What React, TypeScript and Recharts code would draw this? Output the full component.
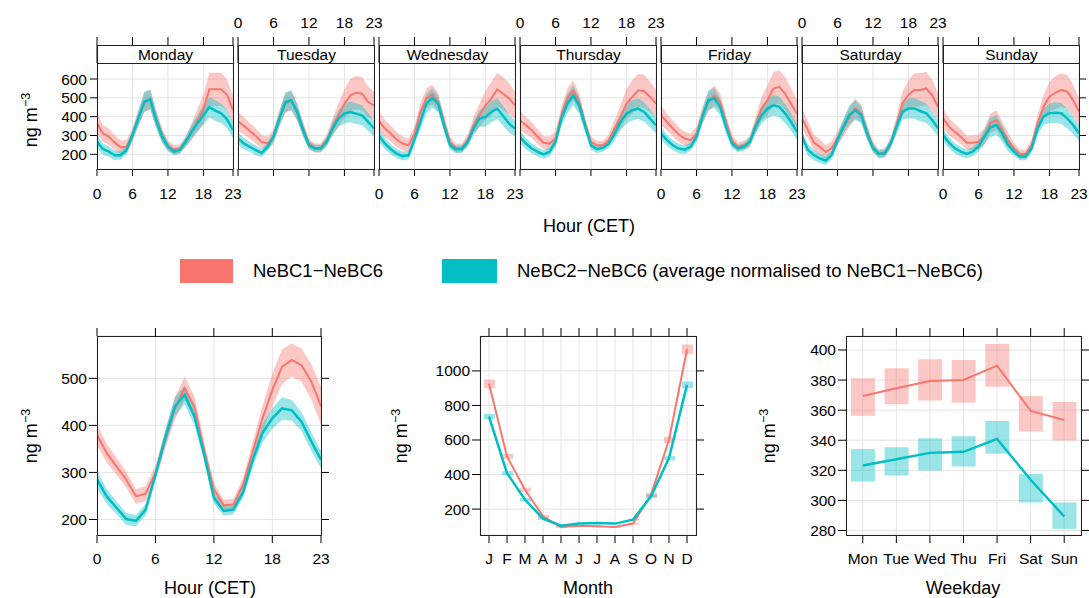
import React from 'react';
import { ComposedChart, Area, Line, Bar, XAxis, YAxis, CartesianGrid } from 'recharts';

const RED = '#F8766D';
const TEAL = '#00BFC4';
const FONT = '"Liberation Sans", Arial, Helvetica, sans-serif';

const hours = [0, 1, 2, 3, 4, 5, 6, 7, 8, 9, 10, 11, 12, 13, 14, 15, 16, 17, 18, 19, 20, 21, 22, 23];
const hourTicks = [0, 6, 12, 18, 23];
const days = ['Monday', 'Tuesday', 'Wednesday', 'Thursday', 'Friday', 'Saturday', 'Sunday'];

// hourly means per weekday (NeBC1-NeBC6 = red, NeBC2-NeBC6 normalised = teal)
const redMon = [365, 311, 294, 262, 237, 240, 303, 391, 474, 492, 391, 303, 244, 225, 228, 265, 320, 380, 440, 545, 545, 545, 515, 435];
const tealMon = [267, 228, 214, 195, 195, 223, 303, 391, 480, 492, 382, 294, 241, 214, 223, 267, 320, 365, 409, 450, 432, 418, 386, 329];
const redTue = [376, 351, 324, 298, 266, 257, 293, 390, 469, 487, 425, 337, 257, 234, 234, 275, 346, 407, 469, 513, 528, 522, 478, 460];
const tealTue = [284, 257, 240, 222, 207, 240, 293, 390, 478, 487, 425, 328, 248, 231, 231, 266, 337, 390, 416, 425, 416, 407, 372, 337];
const redWed = [376, 337, 310, 278, 257, 248, 310, 425, 496, 519, 478, 372, 266, 234, 234, 275, 354, 407, 460, 496, 545, 522, 496, 460];
const tealWed = [298, 257, 227, 204, 190, 195, 280, 372, 469, 499, 469, 354, 248, 227, 227, 266, 337, 390, 399, 425, 443, 404, 363, 337];
const redThu = [381, 354, 328, 293, 261, 257, 284, 407, 496, 540, 478, 363, 266, 248, 248, 275, 337, 399, 469, 505, 540, 535, 505, 469];
const tealThu = [293, 257, 231, 213, 199, 213, 266, 390, 469, 513, 460, 354, 248, 227, 234, 257, 310, 372, 416, 434, 443, 425, 390, 354];
const redFri = [407, 372, 337, 305, 284, 275, 310, 407, 478, 513, 478, 372, 275, 240, 248, 266, 354, 443, 487, 549, 558, 522, 469, 416];
const tealFri = [310, 275, 248, 231, 225, 240, 293, 399, 487, 499, 452, 346, 257, 231, 240, 266, 346, 407, 443, 460, 452, 416, 372, 319];
const redSat = [391, 330, 262, 240, 212, 232, 285, 338, 396, 444, 418, 320, 241, 202, 209, 258, 356, 471, 515, 542, 542, 550, 515, 453];
const tealSat = [294, 223, 196, 179, 166, 196, 276, 347, 409, 435, 409, 312, 232, 202, 205, 258, 347, 427, 444, 444, 430, 418, 382, 338];
const redSun = [391, 347, 320, 294, 262, 262, 267, 294, 365, 382, 329, 276, 232, 202, 202, 250, 365, 453, 506, 527, 542, 533, 488, 427];
const tealSun = [303, 262, 232, 214, 202, 214, 241, 294, 342, 356, 312, 250, 214, 188, 188, 232, 338, 400, 418, 421, 418, 391, 356, 312];

// confidence half-widths of the weekday-hour bands
const redDayCi = [52, 46, 42, 40, 36, 36, 38, 45, 52, 52, 46, 38, 28, 24, 24, 30, 45, 62, 78, 88, 88, 88, 82, 72];
const tealDayCi = [34, 30, 27, 25, 23, 23, 28, 38, 52, 52, 44, 35, 22, 20, 20, 25, 36, 44, 52, 55, 55, 52, 48, 42];

// overall diurnal profile
const redHour = [380, 341, 313, 285, 249, 255, 299, 369, 436, 479, 440, 348, 264, 230, 232, 274, 345, 415, 475, 525, 539, 528, 493, 441];
const tealHour = [285, 249, 225, 201, 197, 221, 295, 373, 440, 465, 419, 338, 246, 218, 221, 258, 327, 384, 415, 436, 432, 408, 366, 327];
const redHourCi = [22, 20, 18, 17, 16, 16, 16, 20, 24, 25, 22, 18, 14, 12, 12, 14, 20, 28, 35, 37, 35, 35, 38, 40];
const tealHourCi = [18, 16, 14, 13, 12, 12, 12, 16, 20, 20, 18, 15, 12, 10, 10, 12, 15, 20, 22, 24, 22, 20, 20, 18];

// monthly
const months = ['Jan', 'Feb', 'Mar', 'Apr', 'May', 'Jun', 'Jul', 'Aug', 'Sep', 'Oct', 'Nov', 'Dec'];
const redMonth = [925, 505, 312, 158, 96, 104, 100, 96, 116, 283, 601, 1125];
const tealMonth = [736, 408, 254, 145, 104, 116, 119, 116, 139, 274, 495, 919];
const redMonthCi = [25, 15, 12, 8, 6, 5, 5, 5, 6, 12, 18, 28];
const tealMonthCi = [15, 12, 10, 7, 5, 4, 4, 4, 5, 10, 12, 20];

// weekday
const weekdays = ['Mon', 'Tue', 'Wed', 'Thu', 'Fri', 'Sat', 'Sun'];
const redWeek = [369.4, 374.5, 379.4, 380.1, 389.6, 359.5, 353.5];
const redWeekLo = [356.2, 363.9, 366.4, 365.0, 375.6, 345.8, 339.8];
const redWeekHi = [381.2, 387.8, 393.8, 393.4, 404.0, 369.4, 365.5];
const tealWeek = [323.2, 327.4, 331.6, 332.3, 340.9, 313.7, 289.3];
const tealWeekLo = [312.6, 316.5, 319.9, 322.5, 331.1, 298.6, 281.1];
const tealWeekHi = [334.2, 335.4, 341.3, 342.7, 352.8, 317.6, 298.6];

const dayRed = [redMon, redTue, redWed, redThu, redFri, redSat, redSun];
const dayTeal = [tealMon, tealTue, tealWed, tealThu, tealFri, tealSat, tealSun];

const tickStyle = { fontSize: 15.5, fill: '#000', fontFamily: FONT };
const blank = () => '';
const gridColor = '#e4e4e4';

const Frame = ({ left, top, width, height }: { left: number; top: number; width: number; height: number }) => (
  <div
    style={{
      position: 'absolute', left, top, width: width + 1, height: height + 1,
      boxSizing: 'border-box', border: '1px solid #222', pointerEvents: 'none',
    }}
  />
);

const YTitle = ({ x, y }: { x: number; y: number }) => (
  <div
    style={{
      position: 'absolute', left: x, top: y, transform: 'translate(-50%, -50%) rotate(-90deg)',
      whiteSpace: 'nowrap', fontSize: 18,
    }}
  >
    ng m<sup style={{ fontSize: 12.5 }}>−3</sup>
  </div>
);

const XTitle = ({ x, y, text }: { x: number; y: number; text: string }) => (
  <div style={{ position: 'absolute', left: x, top: y, transform: 'translate(-50%, -50%)', whiteSpace: 'nowrap', fontSize: 18 }}>
    {text}
  </div>
);

function DayPanel({ idx }: { idx: number }) {
  const plotLeft = 97 + idx * 141;
  const r = dayRed[idx];
  const t = dayTeal[idx];
  const data = hours.map((h, k) => ({
    h,
    r: r[k],
    t: t[k],
    rb: [r[k] - redDayCi[k], r[k] + redDayCi[k]],
    tb: [t[k] - tealDayCi[k], t[k] + tealDayCi[k]],
  }));
  const showBottom = idx % 2 === 0;
  const showTop = idx % 2 === 1;
  return (
    <>
      <div style={{ position: 'absolute', left: plotLeft - 40, top: 0 }}>
        <ComposedChart width={216} height={210} data={data} margin={{ top: 33, right: 30, bottom: 11, left: 10 }}>
          <CartesianGrid stroke={gridColor} />
          <XAxis dataKey="h" type="number" domain={[0, 23]} ticks={hourTicks} allowDataOverflow interval={0}
            height={30} tickSize={7} tickMargin={12} axisLine={false} stroke="#000" tick={tickStyle}
            tickFormatter={showBottom ? undefined : blank} />
          <XAxis xAxisId="t" orientation="top" dataKey="h" type="number" domain={[0, 23]} ticks={hourTicks} allowDataOverflow
            interval={0} height={30} tickSize={26} tickMargin={9} axisLine={false} stroke="#000" tick={tickStyle}
            tickFormatter={showTop ? undefined : blank} />
          <YAxis type="number" domain={[122, 685]} ticks={[200, 300, 400, 500, 600]} allowDataOverflow interval={0}
            width={30} tickSize={7} tickMargin={3} axisLine={false} stroke="#000" tick={tickStyle}
            tickLine={idx === 0} tickFormatter={idx === 0 ? undefined : blank} />
          <YAxis yAxisId="r" orientation="right" type="number" domain={[122, 685]} ticks={[200, 300, 400, 500, 600]}
            allowDataOverflow interval={0} width={10} tickSize={7} axisLine={false} stroke="#000" tick={tickStyle}
            tickLine={idx === 6} tickFormatter={blank} />
          <Area type="linear" dataKey="rb" stroke="none" fill={RED} fillOpacity={0.4} isAnimationActive={false} />
          <Area type="linear" dataKey="tb" stroke="none" fill={TEAL} fillOpacity={0.4} isAnimationActive={false} />
          <Line type="linear" dataKey="r" stroke={RED} strokeWidth={2} dot={false} activeDot={false} isAnimationActive={false} />
          <Line type="linear" dataKey="t" stroke={TEAL} strokeWidth={2.5} dot={false} activeDot={false} isAnimationActive={false} />
        </ComposedChart>
      </div>
      <Frame left={plotLeft} top={45} width={136} height={124} />
      <div
        style={{
          position: 'absolute', left: plotLeft, top: 45, width: 137, height: 19, boxSizing: 'border-box',
          border: '1px solid #222', background: '#fff', fontSize: 15.5, textAlign: 'center', lineHeight: '17px',
        }}
      >
        {days[idx]}
      </div>
    </>
  );
}

function HourPanel() {
  const data = hours.map((h, k) => ({
    h,
    r: redHour[k],
    t: tealHour[k],
    rb: [redHour[k] - redHourCi[k], redHour[k] + redHourCi[k]],
    tb: [tealHour[k] - tealHourCi[k], tealHour[k] + tealHourCi[k]],
  }));
  return (
    <div style={{ position: 'absolute', left: 0, top: 300 }}>
      <ComposedChart width={340} height={270} data={data} margin={{ top: 16, right: 9, bottom: 5, left: 57 }}>
        <CartesianGrid stroke={gridColor} />
        <XAxis dataKey="h" type="number" domain={[0, 23]} ticks={hourTicks} allowDataOverflow interval={0}
          height={30} tickSize={8} tickMargin={10} axisLine={false} stroke="#000" tick={tickStyle} />
        <XAxis xAxisId="t" orientation="top" dataKey="h" type="number" domain={[0, 23]} ticks={hourTicks} allowDataOverflow
          interval={0} height={20} tickSize={8} axisLine={false} stroke="#000" tick={tickStyle} tickFormatter={blank} />
        <YAxis type="number" domain={[167, 590]} ticks={[200, 300, 400, 500]} allowDataOverflow interval={0}
          width={40} tickSize={8} tickMargin={2} axisLine={false} stroke="#000" tick={tickStyle} />
        <YAxis yAxisId="r" orientation="right" type="number" domain={[167, 590]} ticks={[200, 300, 400, 500]}
          allowDataOverflow interval={0} width={10} tickSize={8} axisLine={false} stroke="#000" tick={tickStyle}
          tickFormatter={blank} />
        <Area type="linear" dataKey="rb" stroke="none" fill={RED} fillOpacity={0.4} isAnimationActive={false} />
        <Area type="linear" dataKey="tb" stroke="none" fill={TEAL} fillOpacity={0.4} isAnimationActive={false} />
        <Line type="linear" dataKey="r" stroke={RED} strokeWidth={2} dot={false} activeDot={false} isAnimationActive={false} />
        <Line type="linear" dataKey="t" stroke={TEAL} strokeWidth={2.5} dot={false} activeDot={false} isAnimationActive={false} />
      </ComposedChart>
    </div>
  );
}

function MonthPanel() {
  const data = months.map((m, k) => ({
    m,
    r: redMonth[k],
    t: tealMonth[k],
    rb: [redMonth[k] - redMonthCi[k], redMonth[k] + redMonthCi[k]],
    tb: [tealMonth[k] - tealMonthCi[k], tealMonth[k] + tealMonthCi[k]],
  }));
  const first = (v: string) => v.charAt(0);
  return (
    <div style={{ position: 'absolute', left: 380, top: 300 }}>
      <ComposedChart width={330} height={270} data={data} margin={{ top: 16, right: 4, bottom: 5, left: 60 }}>
        <CartesianGrid stroke={gridColor} />
        <XAxis dataKey="m" interval={0} height={30} tickSize={8} tickMargin={10} axisLine={false} stroke="#000"
          tick={tickStyle} tickFormatter={first} />
        <XAxis xAxisId="b2" dataKey="m" hide />
        <XAxis xAxisId="t" orientation="top" dataKey="m" interval={0} height={20} tickSize={8} axisLine={false}
          stroke="#000" tick={tickStyle} tickFormatter={blank} />
        <YAxis type="number" domain={[50, 1202]} ticks={[200, 400, 600, 800, 1000]} allowDataOverflow interval={0}
          width={40} tickSize={8} tickMargin={2} axisLine={false} stroke="#000" tick={tickStyle} />
        <YAxis yAxisId="r" orientation="right" type="number" domain={[50, 1202]} ticks={[200, 400, 600, 800, 1000]}
          allowDataOverflow interval={0} width={10} tickSize={8} axisLine={false} stroke="#000" tick={tickStyle}
          tickFormatter={blank} />
        <Bar dataKey="rb" barSize={11} fill={RED} fillOpacity={0.4} isAnimationActive={false} />
        <Bar xAxisId="b2" dataKey="tb" barSize={11} fill={TEAL} fillOpacity={0.4} isAnimationActive={false} />
        <Line type="linear" dataKey="r" stroke={RED} strokeWidth={2} dot={false} activeDot={false} isAnimationActive={false} />
        <Line type="linear" dataKey="t" stroke={TEAL} strokeWidth={2.5} dot={false} activeDot={false} isAnimationActive={false} />
      </ComposedChart>
    </div>
  );
}

function WeekPanel() {
  const data = weekdays.map((d, k) => ({
    d,
    r: redWeek[k],
    t: tealWeek[k],
    rb: [redWeekLo[k], redWeekHi[k]],
    tb: [tealWeekLo[k], tealWeekHi[k]],
  }));
  return (
    <div style={{ position: 'absolute', left: 750, top: 300 }}>
      <ComposedChart width={339} height={270} data={data} margin={{ top: 16, right: 0, bottom: 5, left: 56 }}>
        <CartesianGrid stroke={gridColor} />
        <XAxis dataKey="d" interval={0} height={30} tickSize={8} tickMargin={10} axisLine={false} stroke="#000" tick={tickStyle} />
        <XAxis xAxisId="b2" dataKey="d" hide />
        <XAxis xAxisId="t" orientation="top" dataKey="d" interval={0} height={20} tickSize={8} axisLine={false}
          stroke="#000" tick={tickStyle} tickFormatter={blank} />
        <YAxis type="number" domain={[277, 409.3]} ticks={[280, 300, 320, 340, 360, 380, 400]} allowDataOverflow interval={0}
          width={40} tickSize={8} tickMargin={2} axisLine={false} stroke="#000" tick={tickStyle} />
        <YAxis yAxisId="r" orientation="right" type="number" domain={[277, 409.3]} ticks={[280, 300, 320, 340, 360, 380, 400]}
          allowDataOverflow interval={0} width={8} tickSize={8} axisLine={false} stroke="#000" tick={tickStyle}
          tickFormatter={blank} />
        <Bar dataKey="rb" barSize={24} fill={RED} fillOpacity={0.4} isAnimationActive={false} />
        <Bar xAxisId="b2" dataKey="tb" barSize={24} fill={TEAL} fillOpacity={0.4} isAnimationActive={false} />
        <Line type="linear" dataKey="r" stroke={RED} strokeWidth={2} dot={false} activeDot={false} isAnimationActive={false} />
        <Line type="linear" dataKey="t" stroke={TEAL} strokeWidth={2.5} dot={false} activeDot={false} isAnimationActive={false} />
      </ComposedChart>
    </div>
  );
}

export default function App() {
  return (
    <div
      style={{
        position: 'absolute', left: 0, top: 0, width: 1089, height: 598, background: '#fff',
        fontFamily: FONT, color: '#000', overflow: 'hidden',
      }}
    >
      {days.map((d, i) => (
        <DayPanel key={d} idx={i} />
      ))}
      <YTitle x={30} y={120} />
      <XTitle x={589} y={226} text="Hour (CET)" />

      <div style={{ position: 'absolute', left: 180, top: 259, width: 53, height: 24, background: RED }} />
      <div style={{ position: 'absolute', left: 253, top: 271, transform: 'translateY(-50%)', fontSize: 18.5, whiteSpace: 'nowrap' }}>
        NeBC1−NeBC6
      </div>
      <div style={{ position: 'absolute', left: 442, top: 259, width: 55, height: 24, background: TEAL }} />
      <div style={{ position: 'absolute', left: 517, top: 271, transform: 'translateY(-50%)', fontSize: 18.5, whiteSpace: 'nowrap' }}>
        NeBC2−NeBC6 (average normalised to NeBC1−NeBC6)
      </div>

      <HourPanel />
      <Frame left={97} top={336} width={224} height={199} />
      <YTitle x={30} y={436} />
      <XTitle x={210} y={588} text="Hour (CET)" />

      <MonthPanel />
      <Frame left={480} top={336} width={216} height={199} />
      <YTitle x={400} y={436} />
      <XTitle x={588} y={588} text="Month" />

      <WeekPanel />
      <Frame left={846} top={336} width={235} height={199} />
      <YTitle x={768} y={436} />
      <XTitle x={963} y={588} text="Weekday" />
    </div>
  );
}
